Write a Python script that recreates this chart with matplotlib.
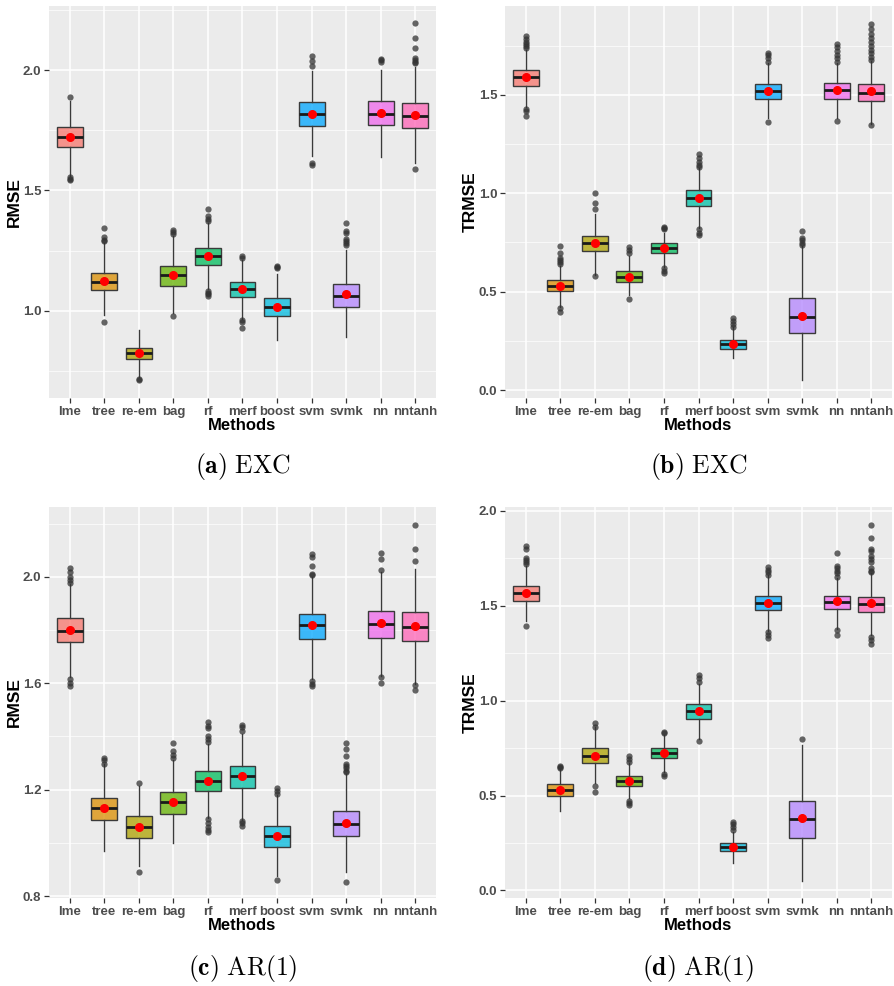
import matplotlib
matplotlib.use("Agg")
import matplotlib.pyplot as plt
from matplotlib.ticker import MultipleLocator
import matplotlib.colors as mcolors

plt.rcParams['font.family'] = ['Liberation Sans', 'DejaVu Sans']
plt.rcParams['mathtext.fontset'] = 'cm'

methods = ['lme', 'tree', 're-em', 'bag', 'rf', 'merf', 'boost', 'svm', 'svmk', 'nn', 'nntanh']
colors = ['#F8766D', '#DB8E00', '#AEA200', '#64B200', '#00BD5C', '#00C1A7',
          '#00BADE', '#00A6FF', '#B385FF', '#EF67EB', '#FF63B6']

# ---- (a) EXC, RMSE ----
a_lo = [1.56, 0.982, 0.725, 0.99, 1.089, 0.968, 0.878, 1.645, 0.892, 1.637, 1.615]
a_q1 = [1.681, 1.086, 0.798, 1.102, 1.190, 1.058, 0.980, 1.767, 1.016, 1.770, 1.759]
a_med = [1.722, 1.120, 0.825, 1.147, 1.227, 1.091, 1.018, 1.817, 1.062, 1.818, 1.809]
a_q3 = [1.762, 1.159, 0.847, 1.187, 1.262, 1.120, 1.054, 1.866, 1.111, 1.871, 1.863]
a_hi = [1.87, 1.28, 0.919, 1.31, 1.365, 1.21, 1.155, 1.995, 1.252, 2.0, 2.014]
a_mean = [1.722, 1.122, 0.823, 1.147, 1.227, 1.089, 1.018, 1.817, 1.069, 1.822, 1.814]
a_out = [[1.887, 1.555, 1.548, 1.542], [1.344, 1.305, 1.295, 1.288, 0.954], [0.716, 0.711],
         [1.335, 1.326, 1.318, 0.98], [1.422, 1.392, 1.383, 1.375, 1.083, 1.075, 1.068, 1.061],
         [1.227, 1.219, 0.96, 0.953, 0.929], [1.187, 1.18, 1.176], [2.059, 2.037, 2.017, 1.612, 1.607],
         [1.363, 1.331, 1.322, 1.30, 1.29, 1.28, 1.272], [2.046, 2.04, 2.032],
         [2.194, 2.134, 2.090, 2.049, 2.042, 2.035, 2.030, 1.589]]

# ---- (b) EXC, TRMSE ----
b_lo = [1.439, 0.423, 0.584, 0.482, 0.626, 0.821, 0.161, 1.380, 0.051, 1.38, 1.354]
b_q1 = [1.546, 0.503, 0.708, 0.548, 0.697, 0.936, 0.208, 1.479, 0.288, 1.481, 1.469]
b_med = [1.588, 0.530, 0.745, 0.577, 0.723, 0.975, 0.232, 1.520, 0.369, 1.524, 1.508]
b_q3 = [1.624, 0.559, 0.784, 0.606, 0.745, 1.014, 0.254, 1.556, 0.466, 1.561, 1.554]
b_hi = [1.73, 0.63, 0.897, 0.68, 0.80, 1.13, 0.32, 1.66, 0.73, 1.66, 1.67]
b_mean = [1.588, 0.530, 0.747, 0.577, 0.723, 0.977, 0.234, 1.520, 0.379, 1.524, 1.517]
b_out = [[1.798, 1.785, 1.77, 1.76, 1.75, 1.74, 1.427, 1.42, 1.392],
         [0.731, 0.694, 0.669, 0.66, 0.65, 0.64, 0.415, 0.395], [1.0, 0.948, 0.921, 0.58],
         [0.728, 0.71, 0.695, 0.461], [0.828, 0.822, 0.818, 0.618, 0.605, 0.593],
         [1.199, 1.18, 1.16, 1.145, 1.134, 0.816, 0.80, 0.79], [0.364, 0.35, 0.335, 0.321],
         [1.713, 1.70, 1.685, 1.667, 1.36], [0.809, 0.773, 0.76, 0.745, 0.736],
         [1.756, 1.744, 1.72, 1.70, 1.685, 1.667, 1.366],
         [1.862, 1.832, 1.81, 1.79, 1.77, 1.75, 1.73, 1.71, 1.69, 1.676, 1.346]]

# ---- (c) AR(1), RMSE ----
c_lo = [1.622, 0.969, 0.911, 0.999, 1.093, 1.086, 0.877, 1.616, 0.890, 1.626, 1.597]
c_q1 = [1.755, 1.086, 1.019, 1.109, 1.196, 1.206, 0.984, 1.767, 1.024, 1.772, 1.760]
c_med = [1.797, 1.130, 1.061, 1.154, 1.233, 1.250, 1.024, 1.819, 1.069, 1.822, 1.812]
c_q3 = [1.844, 1.169, 1.100, 1.193, 1.269, 1.290, 1.063, 1.862, 1.119, 1.872, 1.869]
c_hi = [1.975, 1.295, 1.215, 1.31, 1.37, 1.41, 1.18, 2.0, 1.26, 2.02, 2.031]
c_mean = [1.800, 1.130, 1.061, 1.154, 1.234, 1.250, 1.025, 1.819, 1.075, 1.825, 1.816]
c_out = [[2.035, 2.02, 2.0, 1.99, 1.979, 1.616, 1.60, 1.591], [1.318, 1.31, 1.297], [1.225, 0.890],
         [1.375, 1.344, 1.332, 1.319],
         [1.456, 1.44, 1.43, 1.40, 1.39, 1.378, 1.088, 1.075, 1.06, 1.05, 1.04],
         [1.444, 1.435, 1.422, 1.081, 1.073, 1.065], [1.207, 1.195, 1.184, 0.861],
         [2.088, 2.075, 2.04, 2.012, 2.008, 1.609, 1.598, 1.588],
         [1.375, 1.353, 1.328, 1.297, 1.29, 1.28, 1.27, 1.265, 0.852],
         [2.091, 2.066, 2.025, 1.622, 1.601], [2.195, 2.104, 2.060, 1.594, 1.574]]

# ---- (d) AR(1), TRMSE ----
d_lo = [1.422, 0.420, 0.564, 0.485, 0.625, 0.80, 0.147, 1.366, 0.051, 1.378, 1.343]
d_q1 = [1.525, 0.499, 0.671, 0.550, 0.695, 0.904, 0.208, 1.476, 0.275, 1.485, 1.466]
d_med = [1.567, 0.531, 0.709, 0.576, 0.722, 0.944, 0.231, 1.515, 0.375, 1.520, 1.508]
d_q3 = [1.604, 0.559, 0.748, 0.602, 0.748, 0.982, 0.252, 1.550, 0.473, 1.553, 1.548]
d_hi = [1.71, 0.64, 0.86, 0.67, 0.82, 1.09, 0.31, 1.66, 0.765, 1.645, 1.67]
d_mean = [1.569, 0.531, 0.709, 0.576, 0.722, 0.944, 0.231, 1.515, 0.380, 1.524, 1.513]
d_out = [[1.816, 1.80, 1.75, 1.74, 1.73, 1.72, 1.392], [0.657, 0.65, 0.646], [0.884, 0.861, 0.552, 0.520],
         [0.708, 0.69, 0.678, 0.473, 0.46, 0.45], [0.835, 0.83, 0.613, 0.602], [1.133, 1.12, 1.098, 0.788],
         [0.363, 0.35, 0.335, 0.319], [1.706, 1.69, 1.68, 1.664, 1.361, 1.345, 1.331], [0.800],
         [1.776, 1.711, 1.70, 1.685, 1.67, 1.650, 1.370, 1.343],
         [1.926, 1.856, 1.799, 1.79, 1.76, 1.745, 1.73, 1.70, 1.685, 1.676, 1.334, 1.32, 1.296]]

panels = [
    dict(lo=a_lo, q1=a_q1, med=a_med, q3=a_q3, hi=a_hi, mean=a_mean, out=a_out,
         ylabel='RMSE', ylim=(0.638, 2.266), major=0.5, caption=r'$\mathbf{(a)}\ \mathrm{EXC}$',
         pos=[49, 6, 436, 398], cy=466),
    dict(lo=b_lo, q1=b_q1, med=b_med, q3=b_q3, hi=b_hi, mean=b_mean, out=b_out,
         ylabel='TRMSE', ylim=(-0.04, 1.951), major=0.5, caption=r'$\mathbf{(b)}\ \mathrm{EXC}$',
         pos=[505, 6, 892, 398], cy=466),
    dict(lo=c_lo, q1=c_q1, med=c_med, q3=c_q3, hi=c_hi, mean=c_mean, out=c_out,
         ylabel='RMSE', ylim=(0.7925, 2.263), major=0.4, caption=r'$\mathbf{(c)}\ \mathrm{AR(1)}$',
         pos=[49, 507, 436, 898], cy=969),
    dict(lo=d_lo, q1=d_q1, med=d_med, q3=d_q3, hi=d_hi, mean=d_mean, out=d_out,
         ylabel='TRMSE', ylim=(-0.04, 2.02), major=0.5, caption=r'$\mathbf{(d)}\ \mathrm{AR(1)}$',
         pos=[505, 507, 892, 898], cy=969),
]

W, H = 895, 986
fig = plt.figure(figsize=(W / 100, H / 100), dpi=100)
fig.patch.set_facecolor('white')

for p in panels:
    x0, y0, x1, y1 = p['pos']
    ax = fig.add_axes([x0 / W, 1 - y1 / H, (x1 - x0) / W, (y1 - y0) / H])
    ax.set_facecolor('#EBEBEB')
    stats = []
    for i in range(len(methods)):
        stats.append(dict(label=methods[i], whislo=p['lo'][i], q1=p['q1'][i], med=p['med'][i],
                          q3=p['q3'][i], whishi=p['hi'][i], mean=p['mean'][i], fliers=p['out'][i]))
    bp = ax.bxp(stats, positions=list(range(1, len(methods) + 1)), widths=0.75,
                patch_artist=True, showmeans=True, showcaps=False, showfliers=True,
                boxprops=dict(edgecolor='#3a3a3a', linewidth=1.0),
                whiskerprops=dict(color='#3a3a3a', linewidth=1.0),
                medianprops=dict(color='#1a1a1a', linewidth=2.0),
                meanprops=dict(marker='o', markerfacecolor='red', markeredgecolor='red',
                               markersize=5.5),
                flierprops=dict(marker='o', markerfacecolor='#333333', markeredgecolor='none',
                                markersize=4.5, alpha=0.75),
                zorder=3)
    for patch, c in zip(bp['boxes'], colors):
        r, g, b = mcolors.to_rgb(c)
        patch.set_facecolor((r, g, b, 0.75))
    ax.set_xlim(0.4, len(methods) + 0.6)
    ax.set_ylim(*p['ylim'])
    ax.yaxis.set_major_locator(MultipleLocator(p['major']))
    ax.yaxis.set_minor_locator(MultipleLocator(p['major'] / 2))
    ax.grid(True, which='major', color='white', linewidth=1.1, zorder=0)
    ax.grid(True, which='minor', axis='y', color='white', linewidth=0.5, zorder=0)
    ax.set_axisbelow(True)
    for s in ax.spines.values():
        s.set_visible(False)
    ax.tick_params(axis='both', which='major', length=3.5, width=0.9, color='#333333',
                   labelcolor='#4D4D4D', labelsize=9.5, pad=2)
    ax.tick_params(axis='y', which='minor', length=0)
    for lab in ax.get_xticklabels() + ax.get_yticklabels():
        lab.set_fontweight('bold')
    ax.set_xticks(range(1, len(methods) + 1))
    ax.set_xticklabels(methods, fontweight='bold')
    ax.set_xlabel('Methods', fontsize=12, fontweight='bold', labelpad=0)
    ax.set_ylabel(p['ylabel'], fontsize=12.5, fontweight='bold', labelpad=1)
    fig.text((x0 + x1) / 2 / W, 1 - p['cy'] / H, p['caption'], fontsize=18.5,
             ha='center', va='center')

fig.savefig('out.png', dpi=100, facecolor='white')
